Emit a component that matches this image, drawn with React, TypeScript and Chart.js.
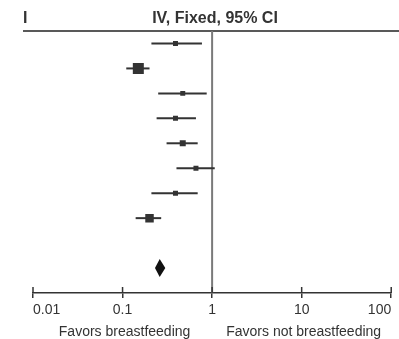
import React, { useEffect, useRef } from 'react';
import { Chart, registerables } from 'chart.js';

Chart.register(...registerables);

// ---- data ----
const studyRows = [1, 2, 3, 4, 5, 6, 7, 8];
const estimates = [0.39, 0.15, 0.47, 0.39, 0.47, 0.66, 0.39, 0.2];
const lowerCI = [0.21, 0.11, 0.25, 0.24, 0.31, 0.4, 0.21, 0.14];
const upperCI = [0.77, 0.2, 0.87, 0.66, 0.69, 1.07, 0.69, 0.27];
const weights = [7.0, 34.2, 7.0, 7.0, 10.2, 7.1, 7.1, 20.4];
const pooledRow = 10;
const pooledEstimate = 0.26;
const pooledLower = 0.23;
const pooledUpper = 0.3;
const tickValues = [0.01, 0.1, 1, 10, 100];
const tickLabels = ['0.01', '0.1', '1', '10', '100'];
const headerText = 'IV, Fixed, 95% CI';
const headerStub = 'I';
const leftLabel = 'Favors breastfeeding';
const rightLabel = 'Favors not breastfeeding';

const FONT = '"Liberation Sans", Arial, sans-serif';
const INK = '#333333';

const forestPlugin = {
  id: 'forest',
  beforeDatasetsDraw(chart: any) {
    const { ctx, chartArea, scales } = chart;
    const x = scales.x;
    const y = scales.y;
    ctx.save();
    // top rule
    ctx.strokeStyle = '#222';
    ctx.lineWidth = 1.5;
    ctx.beginPath();
    ctx.moveTo(23, chartArea.top);
    ctx.lineTo(chart.width, chartArea.top);
    ctx.stroke();
    // line of no effect
    const x1 = x.getPixelForValue(1);
    ctx.strokeStyle = '#7a7a7a';
    ctx.lineWidth = 2;
    ctx.beginPath();
    ctx.moveTo(x1, chartArea.top);
    ctx.lineTo(x1, chartArea.bottom);
    ctx.stroke();
    // confidence intervals
    ctx.strokeStyle = INK;
    ctx.lineWidth = 2;
    studyRows.forEach((r, i) => {
      const py = y.getPixelForValue(r);
      ctx.beginPath();
      ctx.moveTo(x.getPixelForValue(lowerCI[i]), py);
      ctx.lineTo(x.getPixelForValue(upperCI[i]), py);
      ctx.stroke();
    });
    // pooled diamond
    const half = 0.36;
    ctx.fillStyle = '#111';
    ctx.beginPath();
    ctx.moveTo(x.getPixelForValue(pooledLower), y.getPixelForValue(pooledRow));
    ctx.lineTo(x.getPixelForValue(pooledEstimate), y.getPixelForValue(pooledRow - half));
    ctx.lineTo(x.getPixelForValue(pooledUpper), y.getPixelForValue(pooledRow));
    ctx.lineTo(x.getPixelForValue(pooledEstimate), y.getPixelForValue(pooledRow + half));
    ctx.closePath();
    ctx.fill();
    // upper halves of axis ticks
    ctx.strokeStyle = INK;
    ctx.lineWidth = 1.5;
    tickValues.forEach((v) => {
      const px = x.getPixelForValue(v);
      ctx.beginPath();
      ctx.moveTo(px, chartArea.bottom - 6);
      ctx.lineTo(px, chartArea.bottom);
      ctx.stroke();
    });
    // header texts
    ctx.fillStyle = INK;
    ctx.font = `bold 16px ${FONT}`;
    ctx.textBaseline = 'middle';
    ctx.textAlign = 'center';
    ctx.fillText(headerText, 215, 19);
    ctx.textAlign = 'left';
    ctx.fillText(headerStub, 23, 19);
    // favours labels
    ctx.font = `14px ${FONT}`;
    ctx.textBaseline = 'alphabetic';
    ctx.textAlign = 'center';
    ctx.fillText(leftLabel, x.getPixelForValue(0.1) + 2, 336);
    ctx.fillText(rightLabel, x.getPixelForValue(10) + 2, 336);
    ctx.restore();
  },
};

export default function App() {
  const ref = useRef<HTMLCanvasElement | null>(null);
  useEffect(() => {
    if (!ref.current) return;
    const chart = new Chart(ref.current, {
      type: 'scatter',
      data: {
        datasets: [
          {
            data: estimates.map((e, i) => ({ x: e, y: studyRows[i] })),
            pointStyle: 'rect',
            pointRadius: weights.map((w) => (1.88 * Math.sqrt(w)) / Math.SQRT2),
            backgroundColor: INK,
            borderWidth: 0,
          },
        ],
      },
      options: {
        animation: false,
        responsive: false,
        events: [],
        layout: { padding: { left: 33, right: 3, top: 31, bottom: 21 } },
        plugins: { legend: { display: false }, tooltip: { enabled: false } },
        scales: {
          x: {
            type: 'logarithmic',
            min: 0.01,
            max: 100,
            afterBuildTicks: (scale: any) => {
              scale.ticks = tickValues.map((v) => ({ value: v }));
            },
            afterFit: (scale: any) => {
              scale.height = 25;
              scale.paddingLeft = 0;
              scale.paddingRight = 0;
            },
            ticks: {
              autoSkip: false,
              maxRotation: 0,
              align: 'inner',
              padding: 4,
              color: INK,
              font: { family: FONT, size: 14 },
              callback: (value: any) => {
                const idx = tickValues.indexOf(Number(value));
                return idx >= 0 ? tickLabels[idx] : '';
              },
            },
            grid: { drawOnChartArea: false, tickLength: 5, color: INK, lineWidth: 1.5 },
            border: { display: true, color: INK, width: 1.5 },
          },
          y: {
            type: 'linear',
            display: false,
            min: 0.5,
            max: 11,
            reverse: true,
          },
        },
      },
      plugins: [forestPlugin],
    });
    return () => chart.destroy();
  }, []);
  return (
    <div style={{ position: 'fixed', left: 0, top: 0, width: 399, height: 339, background: '#fff' }}>
      <canvas ref={ref} width={399} height={339} />
    </div>
  );
}
